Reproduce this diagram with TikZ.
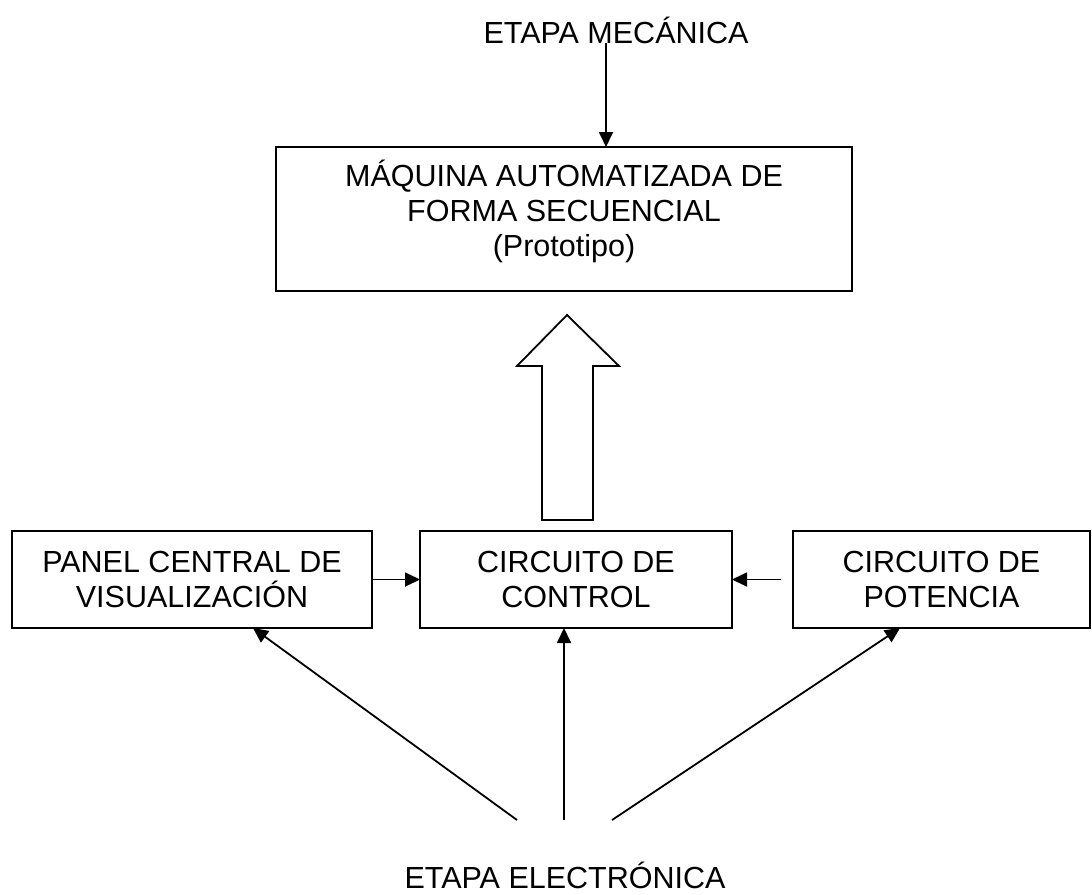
\documentclass[tikz,border=0pt]{standalone}
\usepackage{fontspec}
\setmainfont{Liberation Sans}
\usetikzlibrary{arrows.meta,calc}
\begin{document}
\begin{tikzpicture}[x=1pt,y=-1pt,
  every node/.style={font=\fontsize{30.5}{35}\selectfont},
  box/.style={draw, line width=1.8pt, inner sep=0pt, outer sep=0pt, align=center},
  arr/.style={line width=1.8pt, -{Triangle[length=15pt,width=14pt]}},
  hollow/.style={draw, line width=1.8pt, fill=white, line join=miter}
]
\fill[white] (0,0) rectangle (1092,894);
\useasboundingbox (0,0) rectangle (1092,894);

% boxes
\node[box, minimum width=576pt, minimum height=144pt] (maq) at (564,219) {};
\node[inner sep=0pt, align=center] (maqtext) at (564,211) {MÁQUINA AUTOMATIZADA DE\\FORMA SECUENCIAL\\(Prototipo)};
\node[box, minimum width=360pt, minimum height=97pt] (vis) at (192,579.5) {PANEL CENTRAL DE\\VISUALIZACIÓN};
\node[box, minimum width=312pt, minimum height=97pt] (ctrl) at (576,579.5) {CIRCUITO DE\\CONTROL};
\node[box, minimum width=297pt, minimum height=97pt] (pot) at (941.5,579.5) {CIRCUITO DE\\POTENCIA};

% stage labels
\node[anchor=base, inner sep=0pt] (mec) at (616,43) {ETAPA MECÁNICA};
\node[anchor=base, inner sep=0pt] (elec) at (565,888) {ETAPA ELECTRÓNICA};

% hollow block arrow
\draw[hollow] (542,520) -- (542,366) -- (517,366) -- (567,315) -- (619,366) -- (593,366) -- (593,520) -- cycle;

% connectors
\coordinate (mecfoot) at (606,43);
\draw[arr] (mecfoot) -- (mecfoot |- maq.north);
\draw[arr] (vis.east) -- (ctrl.west);
\draw[arr, shorten <=12pt] (pot.west) -- (ctrl.east);
\coordinate (e1) at (517,820);
\coordinate (e2) at (564,820);
\coordinate (e3) at (612,820);
\draw[arr] (e1) -- ($(vis.south west)+(241,0)$);
\draw[arr] (e2) -- ($(ctrl.south west)+(144,0)$);
\draw[arr] (e3) -- ($(pot.south west)+(107,0)$);
\end{tikzpicture}
\end{document}
